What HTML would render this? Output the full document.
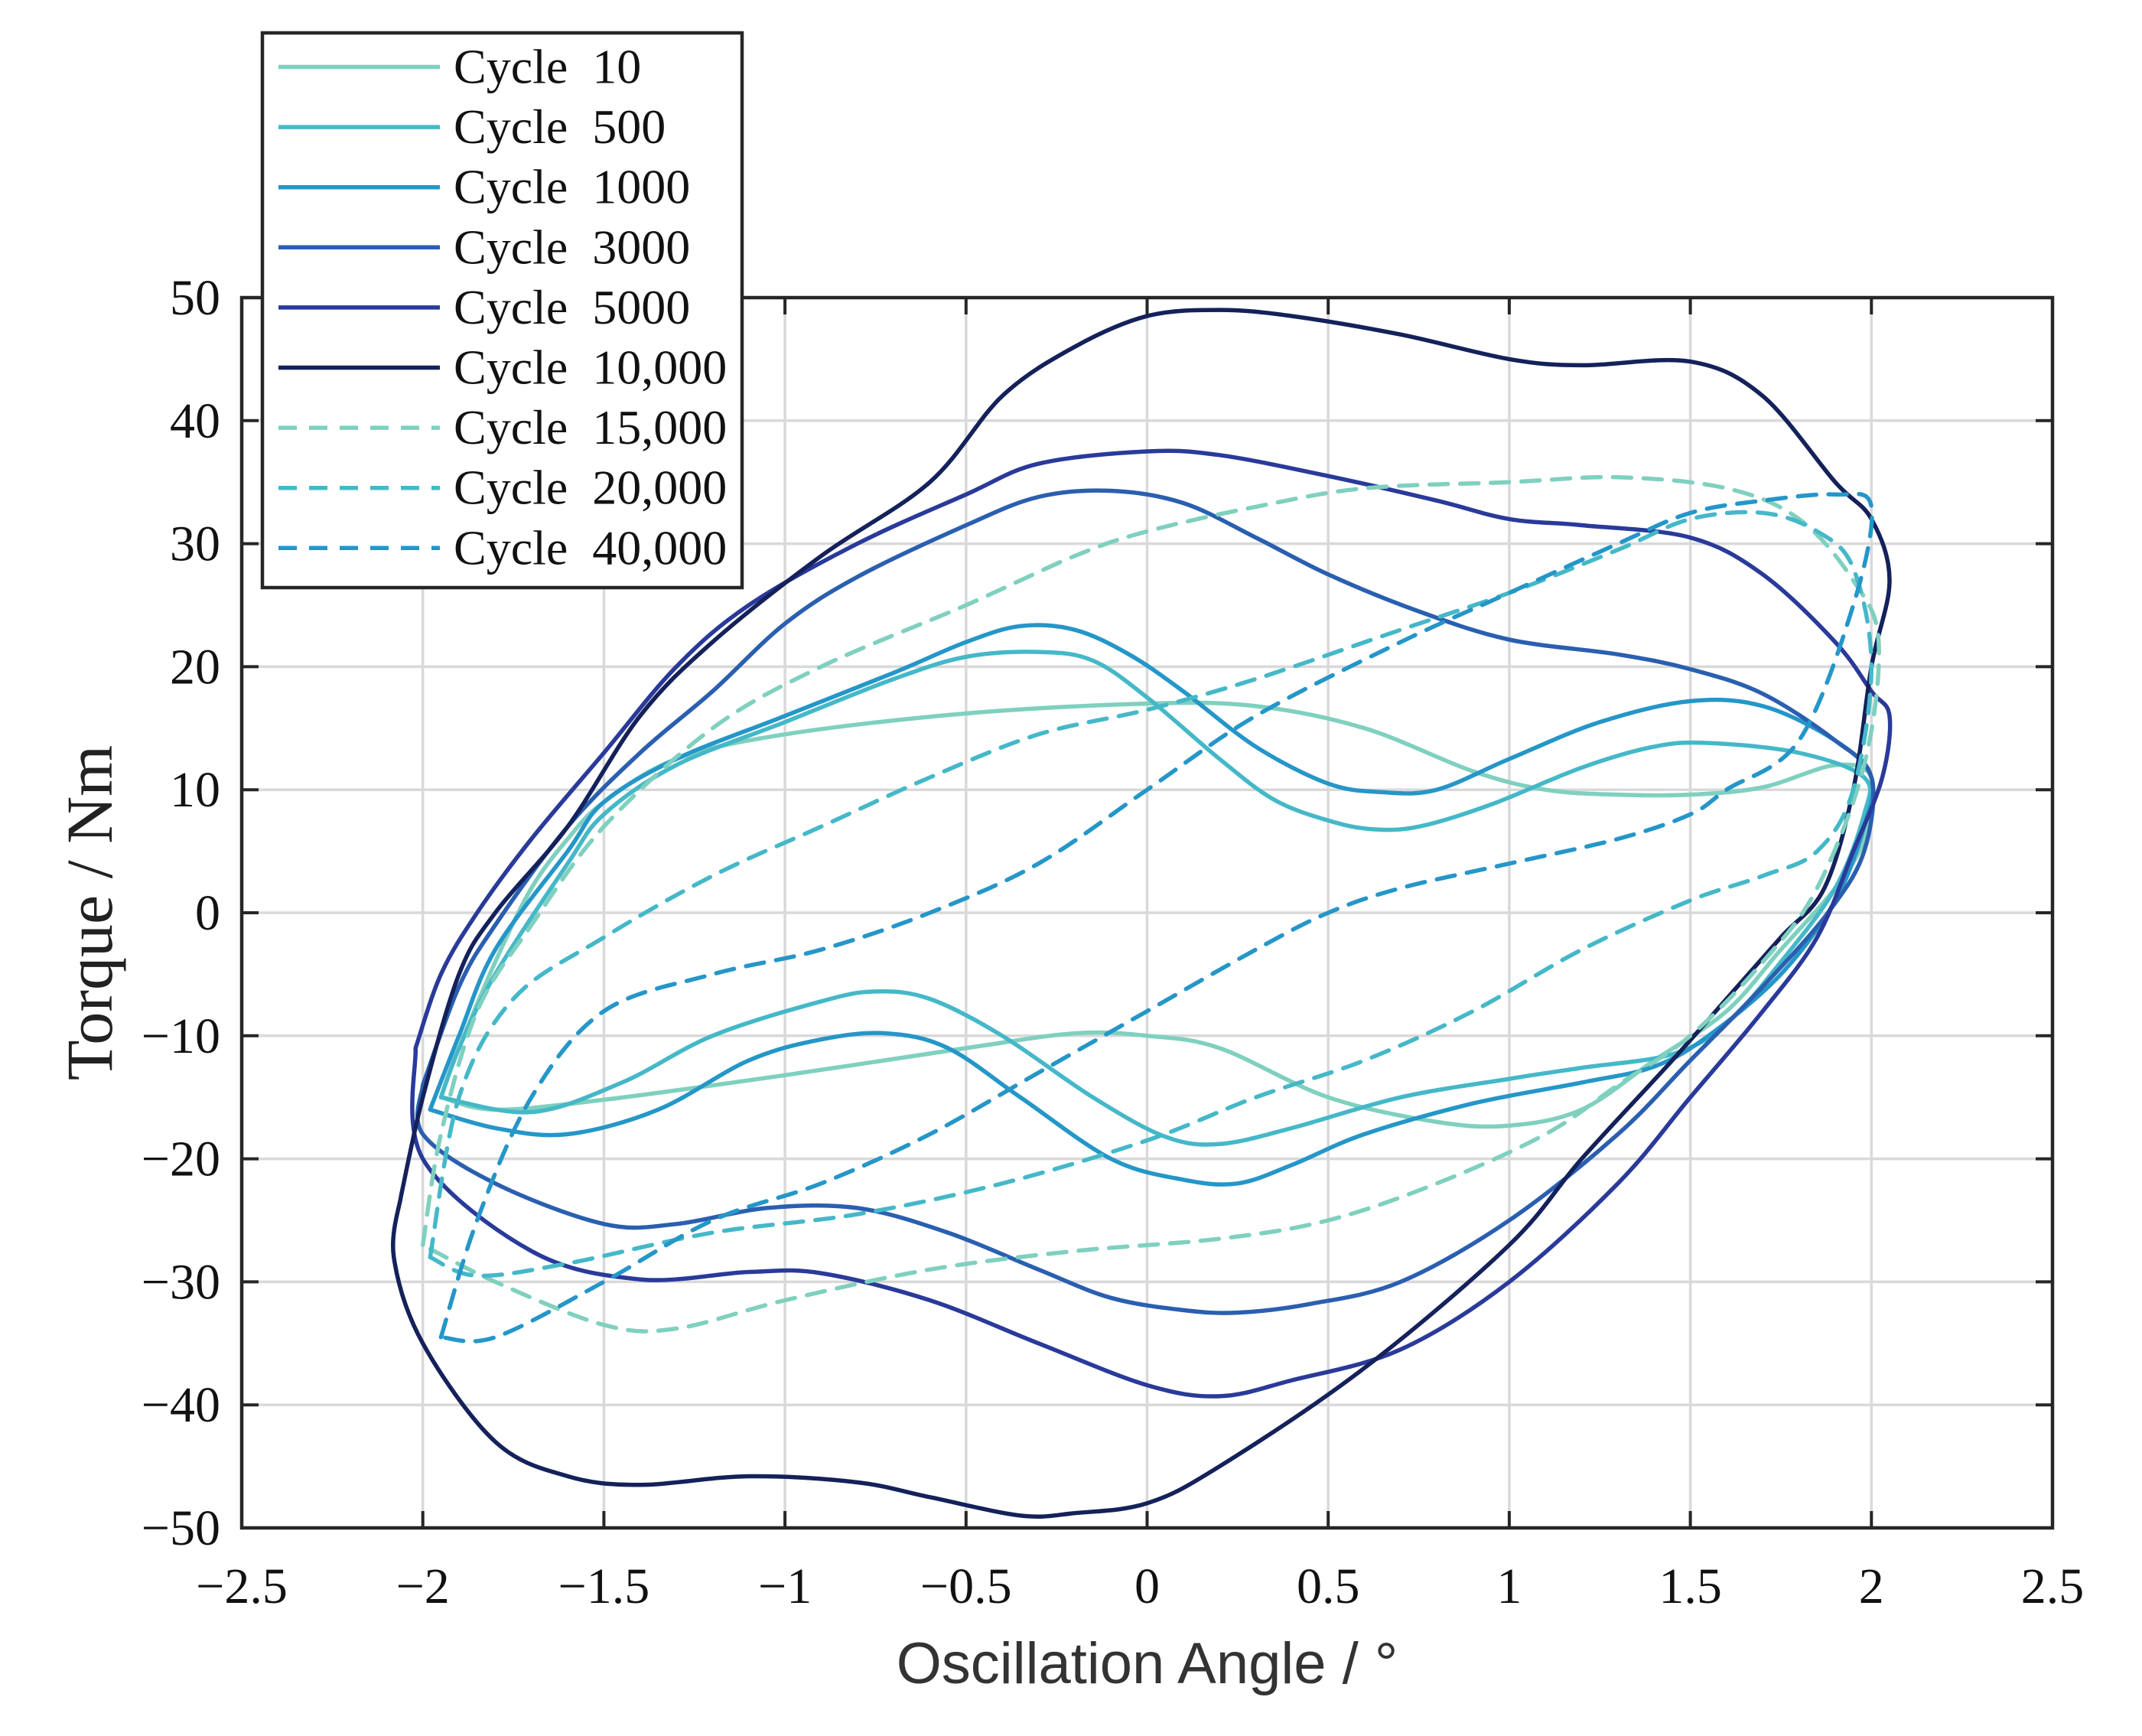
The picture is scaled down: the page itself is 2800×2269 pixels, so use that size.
<!DOCTYPE html>
<html><head><meta charset="utf-8"><style>
html,body{margin:0;padding:0;background:#fff;}
svg{display:block;}
</style></head><body>
<svg id="chart" width="2800" height="2269" viewBox="0 0 2800 2269" xmlns="http://www.w3.org/2000/svg">
<g id="grid"></g>
<g id="series"></g>
<g id="axes"></g>
<g id="legend"></g>
</svg>
<script>
const xTicks=[-2.5,-2,-1.5,-1,-0.5,0,0.5,1,1.5,2,2.5];
const yTicks=[-50,-40,-30,-20,-10,0,10,20,30,40,50];
const seriesNames=["Cycle  10","Cycle  500","Cycle  1000","Cycle  3000","Cycle  5000","Cycle  10,000","Cycle  15,000","Cycle  20,000","Cycle  40,000"];
const seriesColors=["#7fd0bf","#45b8c8","#2596c8","#2a5fb0","#2a3a9a","#14215a","#7fd0bf","#45b8c8","#2596c8"];
const seriesDashed=[false,false,false,false,false,false,true,true,true];
const c10=[[-1.95,-15],[-1.9,-11],[-1.8,-4],[-1.7,2],[-1.6,6],[-1.5,9],[-1.3,12.5],[-1.0,14.5],[-0.5,16.2],[0,17],[0.3,16.8],[0.6,15],[0.9,11.5],[1.1,10],[1.3,9.6],[1.5,9.6],[1.7,10.2],[1.9,12],[2.0,11],[1.98,6],[1.9,2],[1.75,-3],[1.6,-8],[1.4,-12],[1.2,-16],[1.0,-17.3],[0.8,-17],[0.5,-15],[0.2,-11],[0,-10],[-0.2,-9.8],[-0.5,-11],[-1.0,-13.2],[-1.5,-15.2],[-1.8,-16],[-1.95,-15]];
const c500=[[-1.95,-15],[-1.9,-11],[-1.8,-5],[-1.6,4],[-1.5,8],[-1.3,12],[-1.0,15.5],[-0.7,19],[-0.5,20.8],[-0.3,21.2],[-0.15,20.5],[0,17.5],[0.2,12.5],[0.35,9.2],[0.5,7.5],[0.62,6.8],[0.75,7],[0.95,8.8],[1.2,11.8],[1.4,13.5],[1.55,13.8],[1.8,13],[1.98,11],[1.98,8],[1.9,2],[1.75,-4],[1.6,-9],[1.45,-11.5],[1.2,-12.6],[1.0,-13.5],[0.7,-15],[0.4,-17.5],[0.2,-18.8],[0.05,-18.2],[-0.15,-15],[-0.4,-10],[-0.6,-7],[-0.75,-6.4],[-0.9,-7.2],[-1.2,-10],[-1.45,-13.8],[-1.7,-16.2],[-1.95,-15]];
const c1000=[[-1.98,-16],[-1.9,-10],[-1.8,-3],[-1.6,5],[-1.5,9],[-1.3,12.5],[-1.0,16],[-0.7,19.5],[-0.5,22],[-0.35,23.3],[-0.2,23],[-0.05,21],[0.1,18],[0.3,13.5],[0.5,10.5],[0.65,9.8],[0.8,10],[1.0,12.5],[1.25,15.5],[1.5,17.2],[1.7,16.8],[1.9,14],[2.0,11],[1.98,7],[1.9,1],[1.75,-5],[1.55,-10],[1.4,-12.5],[1.2,-13.8],[0.9,-15.5],[0.6,-18],[0.4,-20.5],[0.25,-22],[0.1,-21.7],[-0.1,-20],[-0.35,-15],[-0.55,-11],[-0.72,-9.8],[-0.9,-10.3],[-1.1,-12],[-1.35,-16],[-1.6,-18],[-1.8,-17.5],[-1.98,-16]];
const c3000=[[-2.0,-14],[-1.9,-6],[-1.8,-1],[-1.6,7],[-1.4,13],[-1.2,18],[-1.0,23.5],[-0.8,27.3],[-0.5,31.5],[-0.3,33.8],[-0.1,34.3],[0.1,33.3],[0.3,30.5],[0.5,27.5],[0.75,24.5],[1.0,22.2],[1.3,21],[1.5,19.8],[1.7,17.8],[1.9,14],[2.0,11],[1.98,5],[1.88,0],[1.7,-6],[1.5,-12],[1.3,-18],[1.0,-25],[0.7,-30],[0.45,-31.8],[0.25,-32.5],[0.1,-32.3],[-0.1,-31.3],[-0.3,-29],[-0.55,-26],[-0.8,-24],[-1.05,-24],[-1.3,-25.3],[-1.5,-25.3],[-1.8,-22],[-2.0,-18],[-2.0,-14]];
const c5000=[[-2.02,-11],[-1.95,-5],[-1.85,0],[-1.7,6],[-1.5,13],[-1.3,20],[-1.1,25],[-0.8,30],[-0.5,34],[-0.3,36.5],[0,37.5],[0.2,37.2],[0.5,35.5],[0.8,33.5],[1.0,32],[1.2,31.5],[1.5,30.5],[1.7,27.5],[1.9,22],[2.0,18],[2.05,16],[2.03,11],[1.95,5],[1.85,-2],[1.7,-8],[1.5,-15],[1.3,-22],[1.0,-30],[0.7,-35.5],[0.4,-38],[0.2,-39.3],[0,-38.4],[-0.3,-35],[-0.6,-31.5],[-0.9,-29.3],[-1.1,-29.2],[-1.4,-29.8],[-1.7,-27.5],[-2.0,-20],[-2.02,-11]];
const c10000=[[-2.06,-23],[-2.0,-15],[-1.9,-5],[-1.8,0],[-1.6,7],[-1.4,16],[-1.2,22],[-0.9,29],[-0.6,35],[-0.4,42],[-0.2,46],[0,48.5],[0.2,49],[0.4,48.5],[0.7,47],[1.0,45],[1.2,44.5],[1.5,44.8],[1.7,42],[1.9,35],[2.0,32],[2.05,27],[2.0,20],[1.95,10],[1.87,2],[1.75,-2],[1.6,-7],[1.45,-12],[1.2,-20],[1.0,-27],[0.6,-37],[0.2,-45],[0,-48],[-0.2,-48.8],[-0.35,-49],[-0.6,-47.5],[-0.8,-46.3],[-1.1,-45.8],[-1.4,-46.5],[-1.6,-45.8],[-1.8,-43],[-2.0,-35],[-2.08,-28],[-2.06,-23]];
const c15000=[[-2.0,-27],[-1.95,-18],[-1.85,-8],[-1.7,-1],[-1.5,7],[-1.2,15],[-0.9,20],[-0.5,25],[-0.2,29],[0,31],[0.3,33],[0.6,34.5],[1.0,35],[1.3,35.4],[1.6,34.5],[1.8,32],[1.95,27],[2.02,22],[1.98,12],[1.85,2],[1.7,-4],[1.5,-10],[1.3,-14],[1.1,-18],[0.8,-22],[0.5,-25],[0.2,-26.5],[-0.2,-27.5],[-0.6,-29],[-1.0,-31.5],[-1.3,-33.8],[-1.5,-33.5],[-1.8,-30],[-2.0,-27]];
const c20000=[[-1.98,-28],[-1.9,-15],[-1.75,-7],[-1.5,-2],[-1.2,3],[-0.9,7],[-0.6,11],[-0.3,14.5],[0,16.5],[0.3,19],[0.7,23],[1.0,26],[1.3,29.5],[1.5,32],[1.7,32.5],[1.85,31],[1.95,28],[2.0,20],[1.95,10],[1.85,5],[1.7,3],[1.5,1],[1.2,-3],[0.9,-8],[0.6,-12],[0.3,-15],[0,-18.5],[-0.4,-22],[-0.8,-24.5],[-1.2,-26],[-1.6,-28.5],[-1.85,-29.5],[-1.98,-28]];
const c40000=[[-1.95,-34.5],[-1.85,-25],[-1.7,-15],[-1.5,-8],[-1.2,-5],[-0.9,-3],[-0.6,0],[-0.3,4],[0,10],[0.3,16],[0.7,22],[1.0,26],[1.3,30],[1.5,32.5],[1.7,33.5],[1.9,34],[2.0,33],[1.95,25],[1.8,14],[1.6,10],[1.5,8],[1.3,6],[1.0,4],[0.7,2],[0.5,0],[0.3,-3],[0,-8],[-0.3,-13],[-0.6,-18],[-0.9,-22],[-1.2,-25],[-1.5,-30],[-1.8,-34.5],[-1.95,-34.5]];
const seriesData=[c10,c500,c1000,c3000,c5000,c10000,c15000,c20000,c40000];

const NS="http://www.w3.org/2000/svg";
const L=316,R=2683,T=389,B=1997;
const xMin=-2.5,xMax=2.5,yMin=-50,yMax=50;
function sx(v){return L+(v-xMin)/(xMax-xMin)*(R-L);}
function sy(v){return B-(v-yMin)/(yMax-yMin)*(B-T);}
function mk(tag,attrs,parent){const e=document.createElementNS(NS,tag);for(const k in attrs)e.setAttribute(k,attrs[k]);parent.appendChild(e);return e;}
function fmt(v){return (v<0?"\u2212":"")+Math.abs(v);}
function smooth(P){
  let d='M'+P[0][0].toFixed(1)+','+P[0][1].toFixed(1);
  for(let i=0;i<P.length-1;i++){
    const p0=P[Math.max(i-1,0)],p1=P[i],p2=P[i+1],p3=P[Math.min(i+2,P.length-1)];
    const c1x=p1[0]+(p2[0]-p0[0])/6,c1y=p1[1]+(p2[1]-p0[1])/6;
    const c2x=p2[0]-(p3[0]-p1[0])/6,c2y=p2[1]-(p3[1]-p1[1])/6;
    d+=`C${c1x.toFixed(1)},${c1y.toFixed(1)} ${c2x.toFixed(1)},${c2y.toFixed(1)} ${p2[0].toFixed(1)},${p2[1].toFixed(1)}`;
  }
  return d;
}
const grid=document.getElementById('grid'),axes=document.getElementById('axes'),ser=document.getElementById('series'),leg=document.getElementById('legend');
const serif='"Liberation Serif", serif';
xTicks.forEach(v=>{
  if(v>xMin&&v<xMax){const g=mk('line',{x1:sx(v),x2:sx(v),y1:T,y2:B,stroke:'#d9d9d9','stroke-width':3.5},grid);
  
  }
  const tk=mk('path',{d:`M${sx(v)},${B}v-22M${sx(v)},${T}v22`,stroke:'#262626','stroke-width':4},axes);
  
  
  const t=mk('text',{x:sx(v),y:B+98,'text-anchor':'middle','font-family':serif,'font-size':66,fill:'#111'},axes);
  t.textContent=fmt(v);
  
  
});
yTicks.forEach(v=>{
  if(v>yMin&&v<yMax){const g=mk('line',{x1:L,x2:R,y1:sy(v),y2:sy(v),stroke:'#d9d9d9','stroke-width':3.5},grid);
  
  }
  const tk=mk('path',{d:`M${L},${sy(v)}h22M${R},${sy(v)}h-22`,stroke:'#262626','stroke-width':4},axes);
  
  
  const t=mk('text',{x:L-28,y:sy(v)+22,'text-anchor':'end','font-family':serif,'font-size':66,fill:'#111'},axes);
  t.textContent=fmt(v);
  
  
});
const box=mk('rect',{x:L,y:T,width:R-L,height:B-T,fill:'none',stroke:'#262626','stroke-width':4.5},axes);


const xt=mk('text',{x:(L+R)/2,y:2200,'text-anchor':'middle','font-family':'"Liberation Sans", sans-serif','font-size':76,fill:'#333'},axes);
xt.textContent='Oscillation Angle / °';


const yt=mk('text',{x:0,y:0,'text-anchor':'middle','font-family':serif,'font-size':86,fill:'#222',transform:`translate(146,${(T+B)/2}) rotate(-90)`},axes);
yt.textContent='Torque / Nm';



seriesData.forEach((pts,i)=>{
  const P=pts.map(p=>[sx(p[0]),sy(p[1])]);
  const p=mk('path',{d:smooth(P),fill:'none',stroke:seriesColors[i],'stroke-width':5.5,'stroke-linejoin':'round','stroke-linecap':'round'},ser);
  if(seriesDashed[i])p.setAttribute('stroke-dasharray','24 16');
  
  
});

const lb=mk('rect',{x:343,y:43,width:627,height:725,fill:'#fff',stroke:'#262626','stroke-width':4.5},leg);


seriesNames.forEach((n,i)=>{
  const y=87.5+i*78.6;
  const g=mk('g',{},leg);
  
  
  const ln=mk('line',{x1:364,x2:575,y1:y,y2:y,stroke:seriesColors[i],'stroke-width':5.5},g);
  if(seriesDashed[i])ln.setAttribute('stroke-dasharray','24 16');
  
  
  const t=mk('text',{x:593,y:y+21,'font-family':serif,'font-size':64,fill:'#111'},g);
  t.style.whiteSpace='pre';
  t.textContent=n;
  
  
});
</script>
</body></html>
